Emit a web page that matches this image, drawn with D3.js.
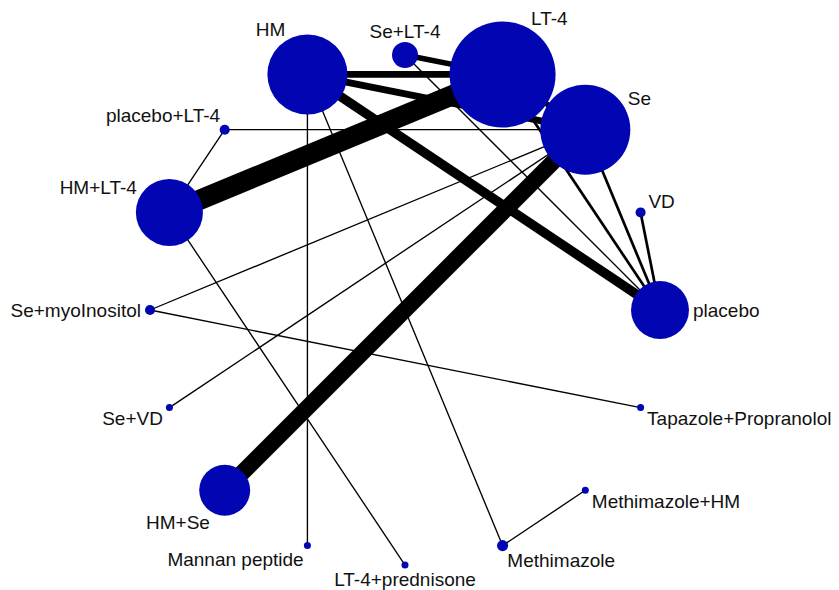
<!DOCTYPE html>
<html>
<head>
<meta charset="utf-8">
<script src="https://cdn.jsdelivr.net/npm/d3@7"></script>
<style>
  html, body { margin: 0; padding: 0; background: #fff; }
  svg { display: block; }
  text { font-family: "Liberation Sans", Arial, sans-serif; }
</style>
</head>
<body>
<svg id="net" width="839" height="590"></svg>
<script>
// Treatments, listed clockwise starting from the top of the ring
const treatments = [
  "Se+LT-4", "LT-4", "Se", "VD", "placebo", "Tapazole+Propranolol",
  "Methimazole+HM", "Methimazole", "LT-4+prednisone", "Mannan peptide",
  "HM+Se", "Se+VD", "Se+myoInositol", "HM+LT-4", "placebo+LT-4", "HM"
];
// Patients per treatment (node area)
const patients = [60, 1000, 721, 9, 299, 4.4, 4.4, 11, 4.4, 4.4, 231, 4.4, 9, 400, 9, 570];

// Direct comparisons and the number of studies behind each
const edgeFrom = ["HM", "HM", "HM", "HM", "HM", "Se+LT-4", "Se+LT-4", "LT-4", "LT-4", "LT-4",
                  "Se", "Se", "Se", "Se", "Se", "VD", "HM+LT-4", "HM+LT-4", "Se+myoInositol", "Methimazole"];
const edgeTo   = ["LT-4", "Se", "placebo", "Mannan peptide", "Methimazole", "LT-4", "placebo", "Se", "HM+LT-4", "placebo",
                  "placebo", "placebo+LT-4", "Se+myoInositol", "Se+VD", "HM+Se", "placebo", "placebo+LT-4", "LT-4+prednisone",
                  "Tapazole+Propranolol", "Methimazole+HM"];
const studies  = [5, 5, 7, 1, 1, 4, 1, 4, 15, 2,
                  2, 1, 1, 1, 12, 2, 1, 1, 1, 1];

const svg = d3.select("#net");
const cx = 405, cy = 310, ringR = 255;
const fontSize = 19, capH = fontSize * 0.716, gap = 4;

const angle = d3.scaleLinear().domain([0, treatments.length]).range([0, 2 * Math.PI]);
const radius = d3.scaleSqrt().domain([0, d3.max(patients)]).range([0, 53]);
const width = d3.scaleLinear().domain([0, d3.max(studies)]).range([0, 20.25]);

const nodes = treatments.map((name, i) => {
  const [x, y] = d3.pointRadial(angle(i), ringR);
  return { name, a: angle(i), x: cx + x, y: cy + y, r: radius(patients[i]) };
});
const byName = new Map(nodes.map(d => [d.name, d]));
const edges = edgeFrom.map((f, i) => ({ s: byName.get(f), t: byName.get(edgeTo[i]), w: width(studies[i]) }));

svg.append("g")
  .selectAll("line")
  .data(edges)
  .join("line")
  .attr("x1", d => d.s.x).attr("y1", d => d.s.y)
  .attr("x2", d => d.t.x).attr("y2", d => d.t.y)
  .attr("stroke", "#000")
  .attr("stroke-width", d => d.w);

svg.append("g")
  .selectAll("circle")
  .data(nodes)
  .join("circle")
  .attr("cx", d => d.x).attr("cy", d => d.y)
  .attr("r", d => d.r)
  .attr("fill", "#0206b2");

// Labels sit at the nearest clock position outside each node
const step = Math.PI / 6;
function clockAngle(d) {
  let t = d.a - Math.PI / 2;
  t = Math.atan2(Math.sin(t), Math.cos(t));
  const v = t / step;
  const k = Math.sign(v) * Math.ceil(Math.abs(v) - 0.5 - 1e-9);
  return k * step;
}

svg.append("g")
  .selectAll("text")
  .data(nodes)
  .join("text")
  .each(function (d) {
    const t = clockAngle(d);
    const c = Math.cos(t), s = Math.sin(t);
    const px = d.x + (d.r + gap) * c;
    const py = d.y + (d.r + gap) * s;
    const anchor = c > 0.1 ? "start" : c < -0.1 ? "end" : "middle";
    const base = s < -0.1 ? py : s > 0.1 ? py + capH : py + capH / 2;
    d3.select(this)
      .attr("x", px).attr("y", base)
      .attr("text-anchor", anchor);
  })
  .attr("font-size", fontSize)
  .attr("fill", "#111")
  .text(d => d.name);
</script>
</body>
</html>
